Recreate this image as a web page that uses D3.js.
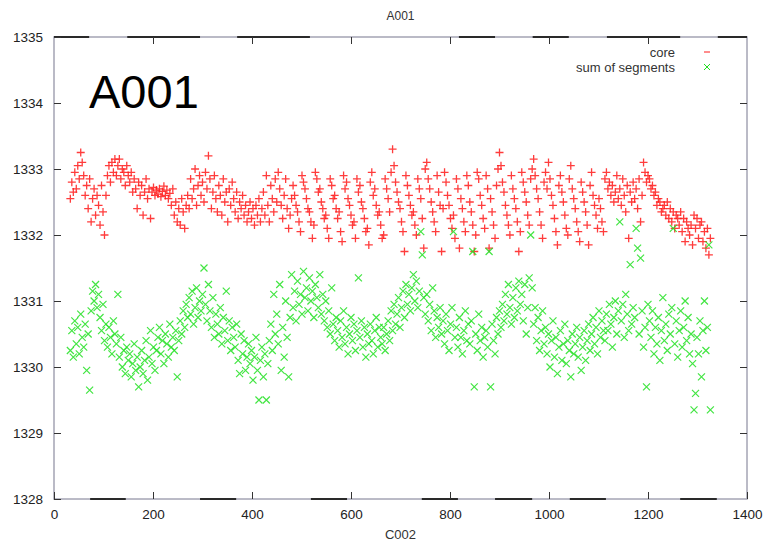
<!DOCTYPE html>
<html><head><meta charset="utf-8">
<script src="https://cdn.jsdelivr.net/npm/d3@7"></script>
<style>body{margin:0;background:#fff}svg{display:block}text{font-family:"Liberation Sans",Arial,sans-serif}</style>
</head><body><svg id="c" width="772" height="546"></svg>
<script>
const title = "A001";
const bigLabel = "A001";
const xLabel = "C002";
const seriesNames = ["core", "sum of segments"];
const xTicks = [0, 200, 400, 600, 800, 1000, 1200, 1400];
const yTicks = [1328, 1329, 1330, 1331, 1332, 1333, 1334, 1335];

const c002 = [
33,36,39,42,45,48,51,54,57,60,
63,66,69,72,75,78,81,84,87,90,
93,96,99,102,105,108,111,114,117,120,
123,126,129,132,135,138,141,144,147,150,
153,156,159,162,165,168,171,174,177,180,
183,186,189,192,195,198,201,204,207,210,
213,216,219,222,225,228,231,234,237,240,
243,246,249,252,255,258,261,264,267,270,
273,276,279,282,285,288,291,294,297,300,
303,306,309,312,315,318,321,324,327,330,
333,336,339,342,345,348,351,354,357,360,
363,366,369,372,375,378,381,384,387,390,
393,396,399,402,405,408,411,414,417,420,
423,426,429,432,435,438,441,444,447,450,
453,456,459,462,465,468,471,474,477,480,
483,486,489,492,495,498,501,504,507,510,
513,516,519,522,525,528,531,534,537,540,
543,546,549,552,555,558,561,564,567,570,
573,576,579,582,585,588,591,594,597,600,
603,606,609,612,615,618,621,624,627,630,
633,636,639,642,645,648,651,654,657,660,
663,666,669,672,675,678,681,684,687,690,
693,696,699,702,705,708,711,714,717,720,
723,726,729,732,735,738,741,744,747,750,
753,756,759,762,765,768,771,774,777,780,
783,786,789,792,795,798,801,804,807,810,
813,816,819,822,825,828,831,834,837,840,
843,846,849,852,855,858,861,864,867,870,
873,876,879,882,885,888,891,894,897,900,
903,906,909,912,915,918,921,924,927,930,
933,936,939,942,945,948,951,954,957,960,
963,966,969,972,975,978,981,984,987,990,
993,996,999,1002,1005,1008,1011,1014,1017,1020,
1023,1026,1029,1032,1035,1038,1041,1044,1047,1050,
1053,1056,1059,1062,1065,1068,1071,1074,1077,1080,
1083,1086,1089,1092,1095,1098,1101,1104,1107,1110,
1113,1116,1119,1122,1125,1128,1131,1134,1137,1140,
1143,1146,1149,1152,1155,1158,1161,1164,1167,1170,
1173,1176,1179,1182,1185,1188,1191,1194,1197,1200,
1203,1206,1209,1212,1215,1218,1221,1224,1227,1230,
1233,1236,1239,1242,1245,1248,1251,1254,1257,1260,
1263,1266,1269,1272,1275,1278,1281,1284,1287,1290,
1293,1296,1299,1302,1305,1308,1311,1314,1317,1320,
1323,1326];

const core = [
1332.55,1332.80,1332.65,1332.95,1332.70,1333.05,1332.85,1333.25,1333.10,1332.90,
1332.60,1332.75,1332.40,1332.85,1332.20,1332.55,1332.70,1332.30,1332.60,1332.45,
1332.15,1332.75,1332.35,1332.00,1332.60,1332.90,1333.05,1332.80,1333.10,1332.95,
1333.15,1332.90,1333.05,1333.15,1332.85,1333.00,1332.95,1332.75,1333.05,1332.90,
1332.80,1332.95,1332.65,1332.85,1332.70,1332.40,1332.80,1332.60,1332.75,1332.30,
1332.65,1332.85,1332.55,1332.70,1332.25,1332.65,1332.72,1332.60,1332.68,1332.62,
1332.70,1332.58,1332.66,1332.74,1332.60,1332.68,1332.55,1332.63,1332.45,1332.70,
1332.30,1332.50,1332.20,1332.40,1332.15,1332.55,1332.35,1332.10,1332.45,1332.60,
1332.40,1332.85,1332.55,1332.70,1333.00,1332.45,1332.75,1332.90,1332.60,1332.80,
1332.50,1332.95,1332.70,1333.20,1332.85,1332.40,1332.65,1332.90,1332.55,1332.35,
1332.75,1332.60,1332.30,1332.85,1332.50,1332.65,1332.20,1332.70,1332.45,1332.80,
1332.55,1332.35,1332.65,1332.25,1332.50,1332.40,1332.60,1332.30,1332.45,1332.20,
1332.35,1332.50,1332.25,1332.40,1332.15,1332.45,1332.30,1332.55,1332.20,1332.40,
1332.65,1332.30,1332.90,1332.45,1332.20,1332.75,1332.55,1332.35,1332.85,1332.50,
1332.95,1332.70,1332.45,1332.25,1332.60,1332.85,1332.40,1332.10,1332.30,1332.55,
1332.75,1332.60,1332.45,1332.35,1332.20,1332.05,1332.90,1332.80,1332.70,1332.55,
1332.40,1332.35,1332.20,1331.95,1332.15,1332.95,1332.85,1332.65,1332.70,1332.50,
1332.40,1332.25,1332.30,1332.10,1331.95,1332.85,1332.75,1332.55,1332.60,1332.40,
1332.25,1332.35,1332.05,1331.90,1332.90,1332.70,1332.80,1332.55,1332.45,1332.30,
1332.15,1332.20,1331.95,1332.85,1332.65,1332.75,1332.50,1332.40,1332.25,1332.05,
1332.10,1331.85,1332.80,1332.95,1332.60,1332.70,1332.45,1332.30,1332.35,1332.15,
1331.95,1332.00,1332.85,1332.70,1332.55,1332.35,1332.95,1333.30,1333.05,1332.80,
1332.65,1332.50,1332.40,1332.20,1332.05,1331.75,1332.90,1332.75,1332.60,1332.45,
1332.30,1332.35,1332.15,1332.00,1332.85,1332.70,1332.55,1332.25,1331.80,1333.00,
1333.10,1332.85,1332.70,1332.50,1332.35,1332.20,1332.05,1332.90,1332.65,1332.45,
1331.75,1332.40,1332.95,1332.80,1332.60,1332.45,1332.25,1332.10,1332.30,1331.95,
1332.85,1332.70,1331.80,1332.55,1332.40,1332.20,1332.05,1332.90,1332.75,1332.50,
1332.35,1332.15,1331.75,1332.00,1332.95,1332.85,1332.60,1332.45,1332.25,1332.10,
1332.90,1332.70,1331.80,1332.55,1332.35,1332.15,1331.95,1332.75,1333.00,1333.25,
1333.05,1332.80,1332.65,1332.45,1332.30,1332.15,1332.00,1332.90,1332.70,1332.55,
1332.40,1332.20,1331.75,1332.05,1332.95,1332.80,1332.65,1332.50,1332.30,1332.15,
1332.85,1333.00,1333.15,1332.90,1332.70,1332.55,1332.35,1332.15,1331.95,1332.80,
1332.95,1332.70,1333.10,1332.85,1332.60,1332.45,1332.25,1332.05,1331.85,1332.75,
1332.90,1332.65,1332.50,1332.30,1332.10,1332.00,1332.85,1333.05,1332.70,1332.55,
1332.40,1332.20,1332.05,1331.90,1332.80,1332.65,1332.50,1332.35,1332.15,1331.85,
1332.75,1332.95,1332.60,1332.45,1332.30,1332.10,1332.55,1332.40,1332.20,1332.05,
1332.85,1332.95,1332.70,1332.80,1332.60,1332.75,1332.50,1332.65,1332.90,1332.55,
1332.70,1332.45,1332.85,1332.60,1332.35,1332.75,1331.95,1332.65,1332.50,1332.80,
1332.55,1332.70,1332.40,1332.85,1332.20,1332.60,1333.10,1332.95,1332.80,1332.90,
1332.85,1332.70,1332.75,1332.60,1332.65,1332.45,1332.55,1332.50,1332.35,1332.40,
1332.45,1332.30,1332.50,1332.25,1332.40,1332.20,1332.35,1332.10,1332.30,1332.25,
1332.15,1332.35,1332.05,1332.25,1331.90,1332.20,1332.10,1332.00,1332.15,1331.85,
1332.30,1332.10,1332.25,1331.95,1332.15,1332.20,1331.90,1332.05,1331.80,1332.10,
1331.70,1331.95];

const sumOfSegments = [
1330.25,1330.55,1330.15,1330.70,1330.35,1330.60,1330.20,1330.80,1330.45,1330.30,
1330.65,1329.95,1330.50,1329.65,1330.85,1331.15,1331.00,1331.25,1330.90,1331.10,
1330.75,1330.55,1330.95,1330.40,1330.65,1330.30,1330.60,1330.45,1330.20,1330.70,
1330.50,1330.35,1331.10,1330.15,1330.45,1330.00,1330.25,1329.90,1330.30,1330.10,
1330.20,1329.85,1330.05,1330.35,1329.95,1330.15,1329.70,1330.00,1330.25,1329.90,
1330.10,1330.40,1329.80,1330.15,1330.55,1330.05,1330.30,1329.95,1330.25,1330.45,
1330.60,1330.20,1330.40,1330.05,1330.50,1330.35,1330.15,1330.65,1330.30,1330.45,
1330.25,1330.55,1329.85,1330.40,1330.70,1330.50,1330.85,1330.60,1330.95,1330.75,
1331.05,1330.80,1331.15,1330.65,1330.90,1331.20,1330.75,1331.00,1330.85,1331.10,
1331.50,1330.95,1330.70,1331.25,1330.85,1330.60,1331.05,1330.45,1330.80,1330.65,
1330.50,1330.90,1330.35,1330.75,1330.55,1331.15,1330.40,1330.70,1330.25,1330.60,
1330.45,1330.30,1330.65,1330.10,1329.90,1330.50,1330.20,1330.40,1329.95,1330.15,
1330.35,1330.05,1330.25,1329.80,1330.15,1330.45,1329.95,1329.50,1330.10,1330.30,
1329.85,1330.20,1329.50,1330.05,1330.40,1330.65,1330.25,1331.10,1330.50,1330.80,
1330.35,1331.25,1329.95,1330.60,1330.15,1331.00,1330.45,1329.85,1330.75,1331.40,
1330.90,1331.15,1330.70,1331.30,1330.95,1331.10,1330.80,1331.45,1331.05,1331.20,
1330.85,1331.35,1331.00,1331.15,1330.75,1331.25,1331.05,1330.90,1331.40,1330.80,
1331.10,1330.70,1331.00,1330.60,1330.85,1330.50,1331.20,1330.65,1330.40,1330.75,
1330.55,1330.30,1330.70,1330.45,1330.85,1330.35,1330.60,1330.20,1330.50,1330.75,
1330.40,1330.65,1330.25,1330.55,1331.35,1330.45,1330.70,1330.30,1330.60,1330.15,
1330.50,1330.35,1330.65,1330.40,1330.20,1330.55,1330.75,1330.30,1330.60,1330.45,
1330.35,1330.60,1330.25,1330.50,1330.70,1330.40,1330.85,1330.55,1330.95,1330.65,
1330.80,1331.05,1330.60,1330.90,1331.15,1330.75,1331.25,1330.95,1331.10,1330.85,
1331.20,1331.40,1331.00,1331.30,1330.90,1331.15,1332.05,1331.70,1331.05,1330.80,
1331.10,1330.70,1330.95,1330.55,1331.20,1330.85,1330.45,1330.75,1330.60,1330.90,
1330.50,1330.70,1330.35,1330.80,1330.55,1330.25,1330.65,1330.90,1332.05,1330.45,
1330.60,1330.30,1330.75,1330.45,1330.20,1330.55,1330.85,1330.40,1330.65,1330.35,
1330.70,1331.75,1329.70,1330.50,1330.25,1330.80,1330.40,1330.60,1330.15,1330.45,
1330.55,1330.30,1331.75,1329.70,1330.65,1330.40,1330.20,1330.75,1330.50,1330.85,
1330.60,1330.95,1330.70,1331.10,1330.80,1331.25,1330.90,1330.65,1331.05,1330.75,
1331.20,1330.85,1331.30,1330.95,1331.10,1330.70,1331.25,1330.50,1330.90,1331.35,
1332.00,1331.20,1330.65,1330.90,1330.40,1330.75,1330.25,1330.55,1330.85,1330.35,
1330.60,1330.20,1330.50,1330.00,1330.40,1330.70,1330.15,1330.45,1329.90,1330.30,
1330.55,1330.10,1330.35,1330.65,1330.05,1330.40,1330.25,1329.85,1330.50,1330.20,
1330.35,1330.60,1330.15,1330.45,1329.95,1330.30,1330.55,1330.10,1330.40,1330.65,
1330.25,1330.50,1330.75,1330.35,1330.60,1330.20,1330.85,1330.45,1330.70,1330.55,
1330.40,1330.80,1330.55,1330.95,1330.65,1330.30,1330.75,1331.00,1330.50,1330.85,
1332.20,1330.70,1330.95,1330.45,1331.10,1330.80,1330.55,1331.55,1330.65,1330.90,
1330.75,1332.10,1331.80,1330.50,1331.65,1330.85,1330.30,1330.60,1329.70,1330.95,
1330.70,1330.45,1330.85,1330.20,1330.60,1330.35,1330.75,1330.10,1330.55,1331.05,
1330.40,1330.65,1330.25,1330.80,1330.50,1330.90,1332.10,1330.35,1330.70,1330.15,
1330.55,1330.85,1330.30,1330.60,1331.00,1330.40,1330.75,1330.20,1330.50,1330.05,
1329.35,1329.60,1330.45,1330.20,1330.70,1329.85,1330.55,1331.00,1330.25,1330.60,
1331.85,1329.35];

// dark dashes visible along the top and bottom frame lines (in C002 units)
const topDark = [[0,71],[148,295],[370,517],[818,891],[967,1040],[1117,1265],[1341,1400]];
const bottomDark = [[73,145],[295,368],[519,592],[743,816],[891,966],[1042,1115],[1265,1339]];

const svg = d3.select("#c");
const x = d3.scaleLinear().domain([0, 1400]).range([54, 747]);
const y = d3.scaleLinear().domain([1328, 1335]).range([499, 37]);

const tickColor = "#333";

// frame
svg.append("rect").attr("x", x(0)).attr("y", y(1335))
  .attr("width", x(1400) - x(0)).attr("height", y(1328) - y(1335))
  .attr("fill", "none").attr("stroke", "#a4a4b4").attr("stroke-width", 1.5);
svg.append("g").selectAll("line").data(topDark).join("line")
  .attr("x1", d => x(d[0])).attr("x2", d => x(d[1]))
  .attr("y1", y(1335)).attr("y2", y(1335))
  .attr("stroke", "#2a2a2a").attr("stroke-width", 2);
svg.append("g").selectAll("line").data(bottomDark).join("line")
  .attr("x1", d => x(d[0])).attr("x2", d => x(d[1]))
  .attr("y1", y(1328)).attr("y2", y(1328))
  .attr("stroke", "#2a2a2a").attr("stroke-width", 2);

// axes
function styleAxis(g, showText) {
  g.select(".domain").remove();
  g.selectAll(".tick line").attr("stroke", tickColor).attr("stroke-width", 1);
  g.selectAll(".tick text").attr("fill", "#222").attr("font-size", 13.5)
    .attr("font-family", "'Liberation Sans', Arial, sans-serif")
    .style("display", showText ? null : "none");
}
svg.append("g").attr("transform", `translate(${x(0)},0)`)
  .call(d3.axisLeft(y).tickValues(yTicks).tickSize(-7).tickPadding(11).tickFormat(d3.format("d")))
  .call(g => styleAxis(g, true));
svg.append("g").attr("transform", `translate(${x(1400)},0)`)
  .call(d3.axisRight(y).tickValues(yTicks.slice(1, -1)).tickSize(-7).tickFormat(""))
  .call(g => styleAxis(g, false));
svg.append("g").attr("transform", `translate(0,${y(1328)})`)
  .call(d3.axisBottom(x).tickValues(xTicks).tickSize(-7).tickPadding(10).tickFormat(d3.format("d")))
  .call(g => styleAxis(g, true));
svg.append("g").attr("transform", `translate(0,${y(1335)})`)
  .call(d3.axisTop(x).tickValues(xTicks.slice(1, -1)).tickSize(-7).tickFormat(""))
  .call(g => styleAxis(g, false));

// titles
svg.append("text").attr("x", (x(0) + x(1400)) / 2).attr("y", 20)
  .attr("text-anchor", "middle").attr("font-size", 12).attr("fill", "#333").text(title);
svg.append("text").attr("x", (x(0) + x(1400)) / 2).attr("y", 539)
  .attr("text-anchor", "middle").attr("font-size", 13).attr("fill", "#333").text(xLabel);
svg.append("text").attr("x", 89).attr("y", 108)
  .attr("font-size", 47).attr("fill", "#000").text(bigLabel);

// markers
const plus = "M-4,0H4M0,-4V4";
const cross = "M-3.5,-3.5L3.5,3.5M-3.5,3.5L3.5,-3.5";
const red = "#ff1a1a", green = "#22e022";

const coreData = c002.map((c, i) => [c, core[i]]);
const segData = c002.map((c, i) => [c, sumOfSegments[i]]);

svg.append("g").selectAll("path").data(coreData).join("path")
  .attr("transform", d => `translate(${x(d[0])},${y(d[1])})`)
  .attr("d", plus).attr("stroke", red).attr("stroke-width", 1.3)
  .attr("fill", "none").attr("opacity", 0.85);
svg.append("g").selectAll("path").data(segData).join("path")
  .attr("transform", d => `translate(${x(d[0])},${y(d[1])})`)
  .attr("d", cross).attr("stroke", green).attr("stroke-width", 1.2)
  .attr("fill", "none").attr("opacity", 0.85);

// legend
const legend = svg.append("g");
const legendMarks = ["M-3,0H3", "M-3,-3L3,3M-3,3L3,-3"], legendColors = [red, green];
seriesNames.forEach((name, i) => {
  const ly = 52 + i * 15;
  legend.append("text").attr("x", 675).attr("y", ly + 4.5).attr("text-anchor", "end")
    .attr("font-size", 13).attr("fill", "#333").text(name);
  legend.append("path").attr("transform", `translate(707,${ly})`)
    .attr("d", legendMarks[i]).attr("stroke", legendColors[i]).attr("stroke-width", 1).attr("fill", "none");
});
</script>
</body></html>
